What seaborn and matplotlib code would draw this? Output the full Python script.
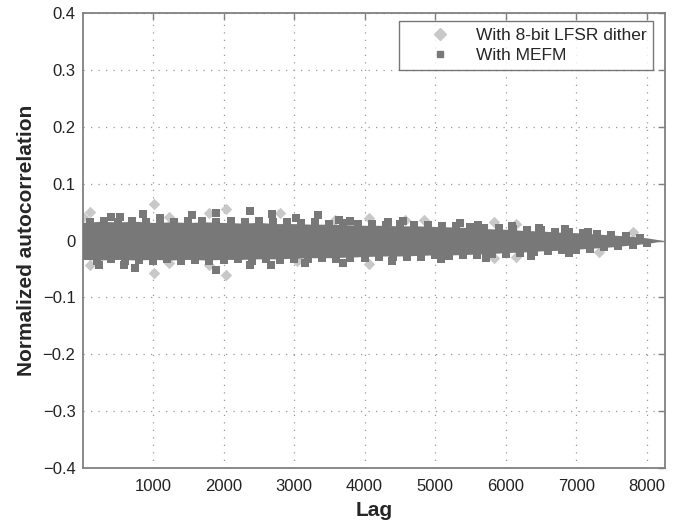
import numpy as np
import pandas as pd
import matplotlib
matplotlib.use("Agg")
import matplotlib.pyplot as plt
import seaborn as sns
from matplotlib.lines import Line2D
from matplotlib.ticker import FuncFormatter

# inner edge of the dense core band
env_lag = [0, 250, 500, 750, 1000, 1250, 1500, 1750, 2000, 2250, 2500, 2750,
           3000, 3250, 3500, 3750, 4000, 4250, 4500, 4750, 5000, 5250, 5500,
           5750, 6000, 6250, 6500, 6750, 7000, 7250, 7500, 7750, 8000, 8100, 8200, 8230]
env_upper = [0.032, 0.034, 0.033, 0.034, 0.032, 0.033, 0.032, 0.033, 0.032, 0.031,
             0.032, 0.030, 0.030, 0.029, 0.029, 0.028, 0.027, 0.027, 0.026, 0.026,
             0.025, 0.024, 0.023, 0.021, 0.020, 0.018, 0.017, 0.015, 0.014, 0.012,
             0.010, 0.008, 0.005, 0.003, 0.001, 0.0]
env_lower = [-0.033, -0.034, -0.033, -0.034, -0.033, -0.034, -0.033, -0.034, -0.033,
             -0.033, -0.032, -0.032, -0.031, -0.030, -0.030, -0.029, -0.028, -0.027,
             -0.027, -0.026, -0.025, -0.025, -0.024, -0.023, -0.021, -0.020, -0.018,
             -0.017, -0.015, -0.013, -0.011, -0.008, -0.005, -0.003, -0.001, 0.0]

# MEFM squares along the ragged band edges
edge_up_lag = [100, 300, 500, 700, 900, 1100, 1300, 1500, 1700, 1900, 2100, 2300,
               2500, 2700, 2900, 3100, 3300, 3500, 3700, 3900, 4100, 4300, 4500,
               4700, 4900, 5100, 5300, 5500, 5700, 5900, 6100, 6300, 6500, 6700,
               6900, 7100, 7300, 7500, 7700, 7900]
edge_up_val = [0.033, 0.035, 0.033, 0.035, 0.033, 0.036, 0.032, 0.034, 0.035, 0.033,
               0.034, 0.032, 0.035, 0.032, 0.033, 0.031, 0.033, 0.030, 0.031, 0.029,
               0.030, 0.028, 0.029, 0.027, 0.028, 0.025, 0.026, 0.024, 0.023, 0.022,
               0.021, 0.019, 0.019, 0.016, 0.015, 0.014, 0.012, 0.010, 0.008, 0.005]
edge_lo_lag = [200, 400, 600, 800, 1000, 1200, 1400, 1600, 1800, 2000, 2200, 2400,
               2600, 2800, 3000, 3200, 3400, 3600, 3800, 4000, 4200, 4400, 4600,
               4800, 5000, 5200, 5400, 5600, 5800, 6000, 6200, 6400, 6600, 6800,
               7000, 7200, 7400, 7600, 7800, 8000]
edge_lo_val = [-0.035, -0.033, -0.036, -0.034, -0.035, -0.033, -0.036, -0.034, -0.035,
               -0.034, -0.033, -0.035, -0.033, -0.034, -0.032, -0.033, -0.031, -0.032,
               -0.030, -0.031, -0.029, -0.029, -0.028, -0.028, -0.026, -0.027, -0.025,
               -0.025, -0.023, -0.023, -0.021, -0.020, -0.019, -0.017, -0.016, -0.014,
               -0.012, -0.010, -0.008, -0.005]

# MEFM points standing out of the band
mefm_lag = [401, 535, 856, 1096, 1551, 1898, 2380, 2684, 3021, 3342, 3636, 3797,
            4332, 4545, 5348, 5615, 6096, 6471, 6845, 7166,
            241, 588, 738, 1898, 2380, 2674, 3155, 3690, 4385, 5080, 5722, 6364, 6898]
mefm_val = [0.041, 0.041, 0.047, 0.039, 0.045, 0.049, 0.052, 0.047, 0.039, 0.045,
            0.036, 0.035, 0.033, 0.035, 0.031, 0.027, 0.026, 0.022, 0.021, 0.016,
            -0.043, -0.043, -0.048, -0.051, -0.043, -0.042, -0.039, -0.039, -0.036,
            -0.033, -0.030, -0.027, -0.021]

# 8-bit LFSR dither points standing out of the band
lfsr_lag = [0, 107, 1016, 1230, 1791, 2032, 2807, 3583, 4064, 4572, 4840, 5829,
            6150, 7807,
            107, 1016, 1230, 1791, 2032, 3048, 4064, 5829, 6150, 7326]
lfsr_val = [0.041, 0.051, 0.065, 0.041, 0.048, 0.055, 0.048, 0.037, 0.039, 0.037,
            0.036, 0.033, 0.030, 0.016,
            -0.042, -0.057, -0.039, -0.043, -0.060, -0.036, -0.041, -0.030, -0.029,
            -0.020]

labels = ["With 8-bit LFSR dither", "With MEFM"]
light = "#c8c8c8"
dark = "#787878"

sns.set_style("white")
plt.rcParams['font.family'] = ['Liberation Sans', 'DejaVu Sans']

lfsr = pd.DataFrame({"lag": lfsr_lag, "r": lfsr_val})
mefm = pd.DataFrame({"lag": mefm_lag + edge_up_lag + edge_lo_lag,
                     "r": mefm_val + edge_up_val + edge_lo_val})

fig = plt.figure(figsize=(6.78, 5.21), dpi=100)
ax = fig.add_axes([82.5 / 678, 53 / 521, 582.5 / 678, 454.7 / 521])

ax.grid(True, color="#9a9a9a", linestyle=(0, (1, 5)), linewidth=0.9)
ax.set_axisbelow(True)

sns.scatterplot(data=lfsr, x="lag", y="r", marker="D", s=34, color=light,
                linewidth=0, ax=ax, zorder=2)
ax.fill_between(env_lag, env_lower, env_upper, color=dark, linewidth=0, zorder=3)
sns.scatterplot(data=mefm, x="lag", y="r", marker="s", s=26, color=dark,
                linewidth=0, ax=ax, zorder=4)

ax.set_xlim(0, 8260)
ax.set_ylim(-0.4, 0.4)
ax.set_xticks(range(1000, 9000, 1000))
ax.set_yticks(np.arange(-0.4, 0.41, 0.1))


def fmt(v, pos):
    if abs(v) < 1e-9:
        return "0"
    return ("%g" % round(v, 2)).replace("-", "\u2212")


ax.yaxis.set_major_formatter(FuncFormatter(fmt))
ax.tick_params(direction="in", length=5, width=1, color="#808080", labelsize=12,
               top=True, right=True, pad=5, labelcolor="#222222")
ax.tick_params(axis="x", pad=8)
for sp in ax.spines.values():
    sp.set_color("#808080")
    sp.set_linewidth(1.3)

ax.set_xlabel("Lag", fontsize=15, fontweight="bold", labelpad=5)
ax.set_ylabel("Normalized autocorrelation", fontsize=15, fontweight="bold")
ax.yaxis.set_label_coords(-0.08, 0.5)

handles = [Line2D([], [], marker="D", color=light, linestyle="none", markersize=6),
           Line2D([], [], marker="s", color=dark, linestyle="none", markersize=5)]
leg = ax.legend(handles, labels, loc="upper right", bbox_to_anchor=(0.98, 0.983),
                borderaxespad=0, fontsize=12.5, frameon=True, fancybox=False,
                handlelength=3.9, handletextpad=0.1, labelspacing=0.3, borderpad=0.4)
leg.get_frame().set_edgecolor("#555555")
leg.get_frame().set_linewidth(1.0)

fig.savefig("out.png", dpi=100)
